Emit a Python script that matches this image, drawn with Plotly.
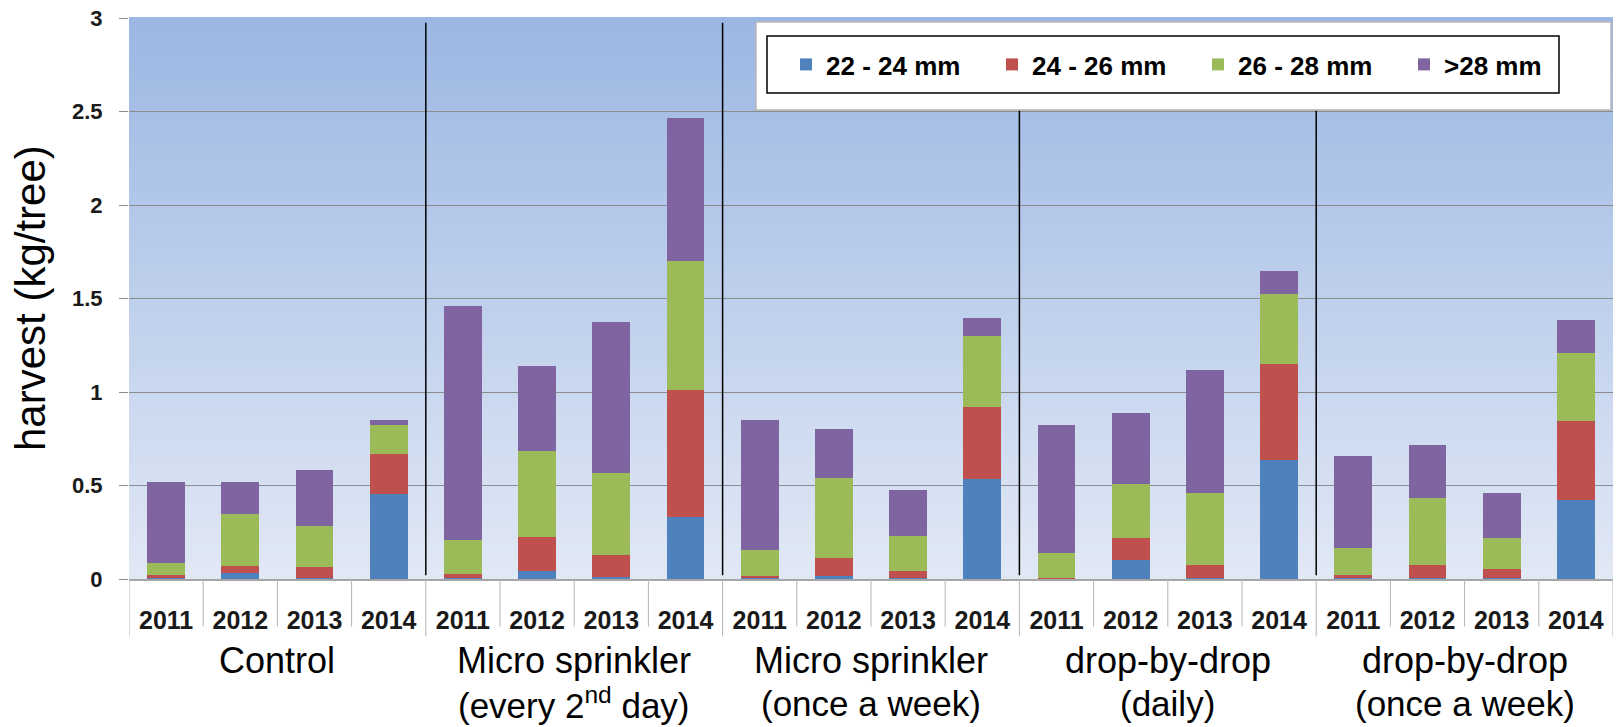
import plotly.graph_objects as go

groups_line1 = ["Control", "Micro sprinkler", "Micro sprinkler", "drop-by-drop", "drop-by-drop"]
groups_line2 = ["", "(every 2<sup>nd</sup> day)", "(once a week)", "(daily)", "(once a week)"]
years = ["2011", "2012", "2013", "2014"]

series_names = ["22 - 24 mm", "24 - 26 mm", "26 - 28 mm", ">28 mm"]
series_colors = ["#4f81bd", "#c0504d", "#9bbb59", "#8064a2"]

# values per bar, in order group x year (20 bars)
v_22_24 = [0.003, 0.033, 0.008, 0.455,
           0.003, 0.043, 0.010, 0.331,
           0.003, 0.016, 0.008, 0.535,
           0.002, 0.102, 0.008, 0.639,
           0.003, 0.008, 0.008, 0.423]
v_24_26 = [0.017, 0.038, 0.057, 0.213,
           0.022, 0.182, 0.117, 0.680,
           0.013, 0.098, 0.035, 0.386,
           0.006, 0.116, 0.068, 0.513,
           0.017, 0.068, 0.045, 0.424]
v_26_28 = [0.066, 0.274, 0.219, 0.153,
           0.185, 0.457, 0.439, 0.692,
           0.137, 0.425, 0.188, 0.376,
           0.133, 0.288, 0.386, 0.371,
           0.147, 0.359, 0.165, 0.364]
v_gt28 = [0.431, 0.172, 0.300, 0.029,
          1.250, 0.458, 0.806, 0.762,
          0.699, 0.264, 0.243, 0.098,
          0.680, 0.380, 0.657, 0.125,
          0.493, 0.280, 0.241, 0.174]
series_values = [v_22_24, v_24_26, v_26_28, v_gt28]

cats = [f"{g1} {g2}|{y}" for g1, g2 in zip(groups_line1, groups_line2) for y in years]
year_labels = [y for _ in groups_line1 for y in years]

W, H = 1618, 727
ML, MR, MT, MB = 129, 5, 18, 148
PW, PH = W - ML - MR, H - MT - MB

def px_x(px):
    return (px - ML) / PW

def px_y(py):
    return 1 - (py - MT) / PH

fig = go.Figure()
for name, col, vals in zip(series_names, series_colors, series_values):
    fig.add_trace(go.Bar(x=cats, y=vals, name=name, marker=dict(color=col, line=dict(width=0)),
                         width=0.51))

shapes = []
# background gradient
top = (155, 183, 227)
bot = (225, 232, 245)
N = 80
for i in range(N):
    t = i / (N - 1)
    c = tuple(round(bot[k] + (top[k] - bot[k]) * t) for k in range(3))
    shapes.append(dict(type="rect", xref="x domain", yref="y domain", x0=0, x1=1,
                       y0=i / N, y1=(i + 1) / N + 0.002, fillcolor="rgb(%d,%d,%d)" % c,
                       line=dict(width=0), layer="below"))

ncat = len(cats)
# category boundary lines below the axis
for i in range(ncat + 1):
    long = (i % len(years) == 0)
    y1 = -(57.5 / PH) if long else -(47.5 / PH)
    shapes.append(dict(type="line", xref="x", yref="paper", x0=i - 0.5, x1=i - 0.5,
                       y0=0, y1=y1, line=dict(color="#b4b4b4", width=1)))
# group separators in plot
for gi in range(1, len(groups_line1)):
    xs = gi * len(years) - 0.5
    shapes.append(dict(type="line", xref="x", yref="y", x0=xs, x1=xs, y0=0.02, y1=2.975,
                       line=dict(color="black", width=1.5), layer="above"))
# white legend panel
shapes.append(dict(type="rect", xref="paper", yref="paper",
                   x0=px_x(756), x1=px_x(1611), y0=px_y(110), y1=px_y(22),
                   fillcolor="white", line=dict(color="#b8b8b8", width=1.5), layer="above"))
# legend frame
shapes.append(dict(type="rect", xref="paper", yref="paper",
                   x0=px_x(767), x1=px_x(1559), y0=px_y(93), y1=px_y(36),
                   fillcolor="rgba(0,0,0,0)", line=dict(color="black", width=1.5), layer="above"))

annotations = []
for gi, (l1, l2) in enumerate(zip(groups_line1, groups_line2)):
    xc = gi * len(years) + (len(years) - 1) / 2
    annotations.append(dict(x=xc, xref="x", y=px_y(660), yref="paper",
                            text=l1, showarrow=False, yanchor="middle",
                            font=dict(family="Liberation Sans, Arial", size=36, color="black")))
    if l2:
        annotations.append(dict(x=xc, xref="x", y=px_y(703), yref="paper",
                                text=l2, showarrow=False, yanchor="middle",
                                font=dict(family="Liberation Sans, Arial", size=35, color="black")))
annotations.append(dict(x=px_x(31), xref="paper", y=px_y(298), yref="paper",
                        text="harvest (kg/tree)", textangle=-90, showarrow=False,
                        xanchor="center", yanchor="middle",
                        font=dict(family="Liberation Sans, Arial", size=42, color="black")))

fig.update_layout(
    width=W, height=H,
    margin=dict(l=ML, r=MR, t=MT, b=MB, pad=0, autoexpand=False),
    paper_bgcolor="white", plot_bgcolor="rgba(0,0,0,0)",
    barmode="stack", bargap=0.49,
    shapes=shapes, annotations=annotations,
    legend=dict(orientation="h", x=px_x(786), y=px_y(64.5),
                xanchor="left", yanchor="middle",
                bgcolor="rgba(0,0,0,0)", borderwidth=0,
                entrywidth=161, entrywidthmode="pixels", traceorder="normal",
                font=dict(family="Liberation Sans, Arial", size=26, color="black", weight="bold")),
    font=dict(family="Liberation Sans, Arial"),
)
fig.update_xaxes(type="category", categoryorder="array", categoryarray=cats,
                 tickvals=cats, ticktext=year_labels, range=[-0.5, ncat - 0.5],
                 ticks="outside", ticklen=18, tickcolor="rgba(0,0,0,0)",
                 tickfont=dict(family="Liberation Sans, Arial", size=25, color="#1a1a1a", weight="bold"),
                 showline=True, linecolor="#a6a6a6", linewidth=1.5, showgrid=False, tickangle=0)
fig.update_yaxes(range=[0, 3], dtick=0.5, showgrid=True, gridcolor="#8c8c8c", gridwidth=1.2,
                 ticks="outside", ticklen=9, tickcolor="#8c8c8c", ticklabelstandoff=12,
                 zeroline=False, showline=False,
                 tickfont=dict(family="Liberation Sans, Arial", size=22, color="#1a1a1a", weight="bold"))

fig.write_html("out.html", config={"displayModeBar": False},
               post_script="document.body.style.margin='0px';")
